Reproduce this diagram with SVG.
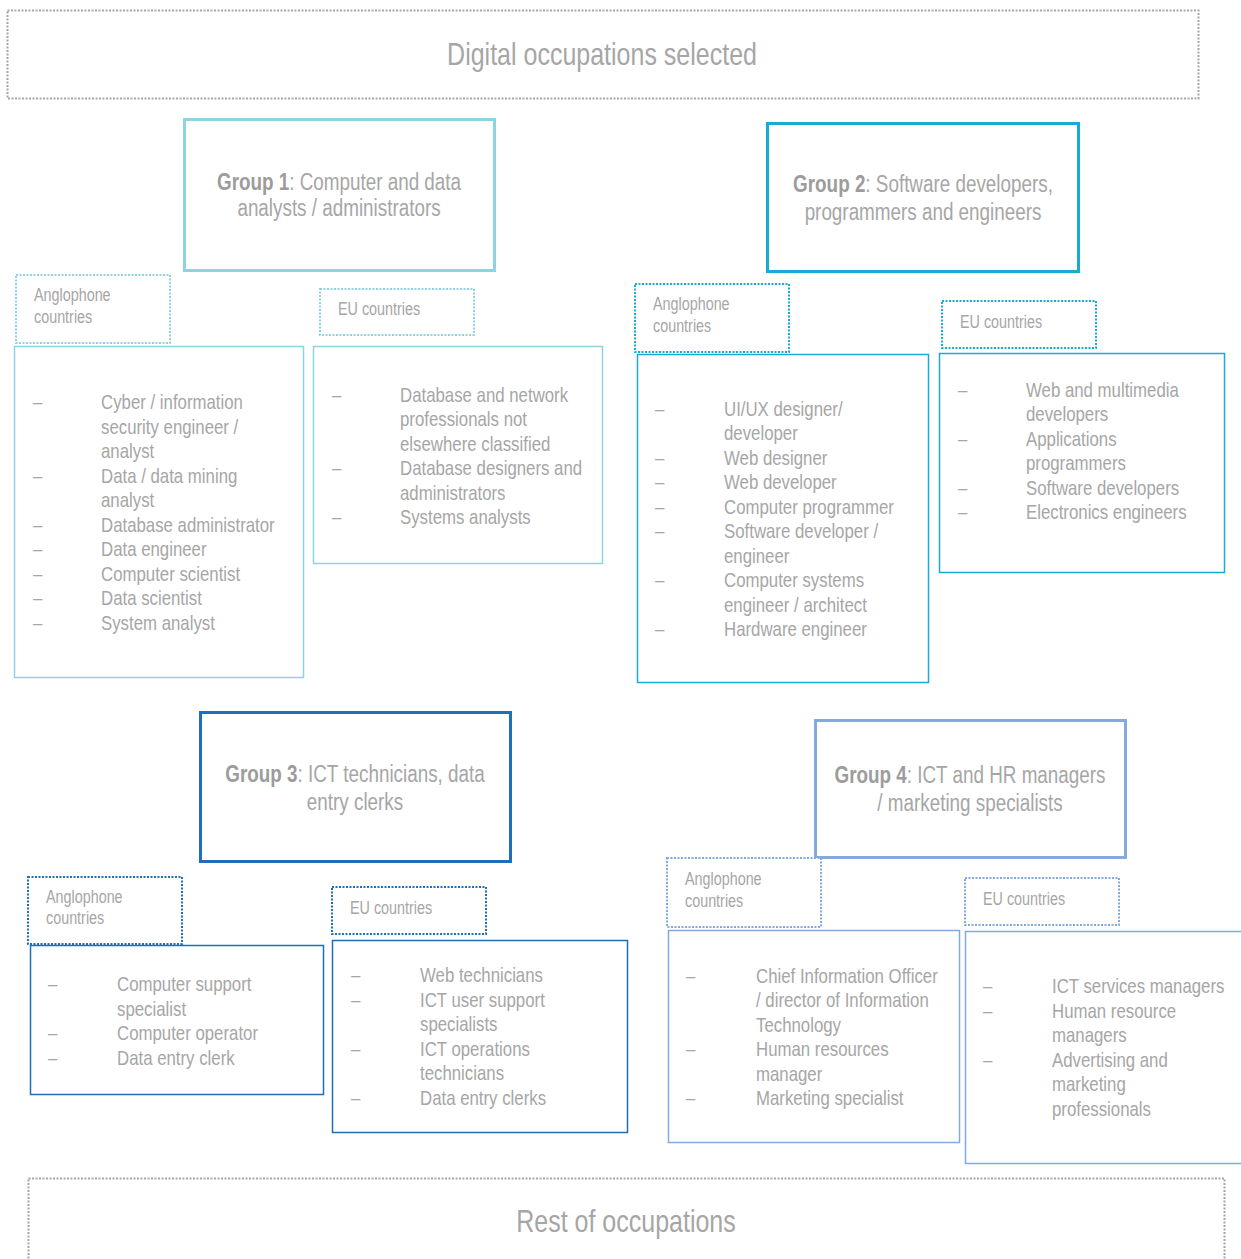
<svg xmlns="http://www.w3.org/2000/svg" width="1241" height="1259" viewBox="0 0 1241 1259">
<style>
text{font-family:"Liberation Sans",Arial,sans-serif;fill:#a6a6a6}
.t1{font-size:30.5px}
.g{font-size:23px}
.b{font-weight:bold;fill:#9c9c9c}
.c{font-size:17.5px}
.li{font-size:20.5px}
.dot{fill:#fff;stroke-width:2;stroke-dasharray:2 1.5}
.gray{stroke:#a6a6a6}
.bx{fill:#fff;stroke-width:3}
.lb{fill:#fff;stroke-width:1.5}
.c1{stroke:#8dd3e3}.c2{stroke:#17acd2}.c3{stroke:#1e6fba}.c4{stroke:#84a9de}
</style>
<g id="digital">
<rect class="dot gray" x="7.5" y="10.5" width="1191" height="88"/>
<g transform="translate(602 0) scale(.82 1)"><text class="t1" x="0" y="65" text-anchor="middle">Digital occupations selected</text></g>
</g>

<g id="group1">
<rect class="bx c1" x="184.5" y="119.5" width="310" height="151"/>
<g transform="translate(339 0) scale(.82 1)"><text class="g" text-anchor="middle"><tspan x="0" y="190"><tspan class="b">Group 1</tspan>: Computer and data</tspan><tspan x="0" y="216">analysts / administrators</tspan></text></g>
</g>
<g id="g1-anglo-label">
<rect class="dot c1" x="16" y="275" width="154" height="68"/>
<g transform="translate(34 0) scale(.82 1)"><text class="c"><tspan x="0" y="301">Anglophone</tspan><tspan x="0" y="323">countries</tspan></text></g>
</g>
<g id="g1-eu-label">
<rect class="dot c1" x="320" y="289" width="154" height="46"/>
<g transform="translate(338 0) scale(.82 1)"><text class="c" x="0" y="315">EU countries</text></g>
</g>
<g id="g1-anglo-list">
<rect class="lb c1" x="14.5" y="346.5" width="289" height="331"/>
<g transform="translate(33 0) scale(.82 1)"><text class="li"><tspan x="0" y="409">–</tspan><tspan x="0" y="483">–</tspan><tspan x="0" y="532">–</tspan><tspan x="0" y="556">–</tspan><tspan x="0" y="581">–</tspan><tspan x="0" y="605">–</tspan><tspan x="0" y="630">–</tspan></text></g>
<g transform="translate(101 0) scale(.82 1)"><text class="li"><tspan x="0" y="409">Cyber / information</tspan><tspan x="0" y="434">security engineer /</tspan><tspan x="0" y="458">analyst</tspan><tspan x="0" y="483">Data / data mining</tspan><tspan x="0" y="507">analyst</tspan><tspan x="0" y="532">Database administrator</tspan><tspan x="0" y="556">Data engineer</tspan><tspan x="0" y="581">Computer scientist</tspan><tspan x="0" y="605">Data scientist</tspan><tspan x="0" y="630">System analyst</tspan></text></g>
</g>
<g id="g1-eu-list">
<rect class="lb c1" x="313.5" y="346.5" width="289" height="217"/>
<g transform="translate(332 0) scale(.82 1)"><text class="li"><tspan x="0" y="402">–</tspan><tspan x="0" y="475">–</tspan><tspan x="0" y="524">–</tspan></text></g>
<g transform="translate(400 0) scale(.82 1)"><text class="li"><tspan x="0" y="402">Database and network</tspan><tspan x="0" y="426">professionals not</tspan><tspan x="0" y="451">elsewhere classified</tspan><tspan x="0" y="475">Database designers and</tspan><tspan x="0" y="500">administrators</tspan><tspan x="0" y="524">Systems analysts</tspan></text></g>
</g>

<g id="group2">
<rect class="bx c2" x="767.5" y="123.5" width="311" height="148"/>
<g transform="translate(923 0) scale(.82 1)"><text class="g" text-anchor="middle"><tspan x="0" y="192"><tspan class="b">Group 2</tspan>: Software developers,</tspan><tspan x="0" y="220">programmers and engineers</tspan></text></g>
</g>
<g id="g2-anglo-label">
<rect class="dot c2" x="635" y="284" width="154" height="68"/>
<g transform="translate(653 0) scale(.82 1)"><text class="c"><tspan x="0" y="310">Anglophone</tspan><tspan x="0" y="332">countries</tspan></text></g>
</g>
<g id="g2-eu-label">
<rect class="dot c2" x="942" y="301" width="154" height="47"/>
<g transform="translate(960 0) scale(.82 1)"><text class="c" x="0" y="328">EU countries</text></g>
</g>
<g id="g2-anglo-list">
<rect class="lb c2" x="637.5" y="354.5" width="291" height="328"/>
<g transform="translate(655 0) scale(.82 1)"><text class="li"><tspan x="0" y="416">–</tspan><tspan x="0" y="465">–</tspan><tspan x="0" y="489">–</tspan><tspan x="0" y="514">–</tspan><tspan x="0" y="538">–</tspan><tspan x="0" y="587">–</tspan><tspan x="0" y="636">–</tspan></text></g>
<g transform="translate(724 0) scale(.82 1)"><text class="li"><tspan x="0" y="416">UI/UX designer/</tspan><tspan x="0" y="440">developer</tspan><tspan x="0" y="465">Web designer</tspan><tspan x="0" y="489">Web developer</tspan><tspan x="0" y="514">Computer programmer</tspan><tspan x="0" y="538">Software developer /</tspan><tspan x="0" y="563">engineer</tspan><tspan x="0" y="587">Computer systems</tspan><tspan x="0" y="612">engineer / architect</tspan><tspan x="0" y="636">Hardware engineer</tspan></text></g>
</g>
<g id="g2-eu-list">
<rect class="lb c2" x="939.5" y="353.5" width="285" height="219"/>
<g transform="translate(958 0) scale(.82 1)"><text class="li"><tspan x="0" y="397">–</tspan><tspan x="0" y="446">–</tspan><tspan x="0" y="495">–</tspan><tspan x="0" y="519">–</tspan></text></g>
<g transform="translate(1026 0) scale(.82 1)"><text class="li"><tspan x="0" y="397">Web and multimedia</tspan><tspan x="0" y="421">developers</tspan><tspan x="0" y="446">Applications</tspan><tspan x="0" y="470">programmers</tspan><tspan x="0" y="495">Software developers</tspan><tspan x="0" y="519">Electronics engineers</tspan></text></g>
</g>

<g id="group3">
<rect class="bx c3" x="200.5" y="712.5" width="310" height="149"/>
<g transform="translate(355 0) scale(.82 1)"><text class="g" text-anchor="middle"><tspan x="0" y="782"><tspan class="b">Group 3</tspan>: ICT technicians, data</tspan><tspan x="0" y="810">entry clerks</tspan></text></g>
</g>
<g id="g3-anglo-label">
<rect class="dot c3" x="28" y="877" width="154" height="67"/>
<g transform="translate(46 0) scale(.82 1)"><text class="c"><tspan x="0" y="903">Anglophone</tspan><tspan x="0" y="924">countries</tspan></text></g>
</g>
<g id="g3-eu-label">
<rect class="dot c3" x="332" y="887" width="154" height="47"/>
<g transform="translate(350 0) scale(.82 1)"><text class="c" x="0" y="914">EU countries</text></g>
</g>
<g id="g3-anglo-list">
<rect class="lb c3" x="30.5" y="945.5" width="293" height="149"/>
<g transform="translate(48 0) scale(.82 1)"><text class="li"><tspan x="0" y="991">–</tspan><tspan x="0" y="1040">–</tspan><tspan x="0" y="1065">–</tspan></text></g>
<g transform="translate(117 0) scale(.82 1)"><text class="li"><tspan x="0" y="991">Computer support</tspan><tspan x="0" y="1016">specialist</tspan><tspan x="0" y="1040">Computer operator</tspan><tspan x="0" y="1065">Data entry clerk</tspan></text></g>
</g>
<g id="g3-eu-list">
<rect class="lb c3" x="332.5" y="940.5" width="295" height="192"/>
<g transform="translate(351 0) scale(.82 1)"><text class="li"><tspan x="0" y="982">–</tspan><tspan x="0" y="1007">–</tspan><tspan x="0" y="1056">–</tspan><tspan x="0" y="1105">–</tspan></text></g>
<g transform="translate(420 0) scale(.82 1)"><text class="li"><tspan x="0" y="982">Web technicians</tspan><tspan x="0" y="1007">ICT user support</tspan><tspan x="0" y="1031">specialists</tspan><tspan x="0" y="1056">ICT operations</tspan><tspan x="0" y="1080">technicians</tspan><tspan x="0" y="1105">Data entry clerks</tspan></text></g>
</g>

<g id="group4">
<rect class="bx c4" x="815.5" y="720.5" width="310" height="137"/>
<g transform="translate(970 0) scale(.82 1)"><text class="g" text-anchor="middle"><tspan x="0" y="783"><tspan class="b">Group 4</tspan>: ICT and HR managers</tspan><tspan x="0" y="811">/ marketing specialists</tspan></text></g>
</g>
<g id="g4-anglo-label">
<rect class="dot c4" x="667" y="858" width="154" height="69"/>
<g transform="translate(685 0) scale(.82 1)"><text class="c"><tspan x="0" y="885">Anglophone</tspan><tspan x="0" y="907">countries</tspan></text></g>
</g>
<g id="g4-eu-label">
<rect class="dot c4" x="965" y="878" width="154" height="47"/>
<g transform="translate(983 0) scale(.82 1)"><text class="c" x="0" y="905">EU countries</text></g>
</g>
<g id="g4-anglo-list">
<rect class="lb c4" x="668.5" y="930.5" width="291" height="212"/>
<g transform="translate(686 0) scale(.82 1)"><text class="li"><tspan x="0" y="983">–</tspan><tspan x="0" y="1056">–</tspan><tspan x="0" y="1105">–</tspan></text></g>
<g transform="translate(756 0) scale(.82 1)"><text class="li"><tspan x="0" y="983">Chief Information Officer</tspan><tspan x="0" y="1007">/ director of Information</tspan><tspan x="0" y="1032">Technology</tspan><tspan x="0" y="1056">Human resources</tspan><tspan x="0" y="1081">manager</tspan><tspan x="0" y="1105">Marketing specialist</tspan></text></g>
</g>
<g id="g4-eu-list">
<rect class="lb c4" x="965.5" y="931.5" width="290" height="232"/>
<g transform="translate(983 0) scale(.82 1)"><text class="li"><tspan x="0" y="993">–</tspan><tspan x="0" y="1018">–</tspan><tspan x="0" y="1067">–</tspan></text></g>
<g transform="translate(1052 0) scale(.82 1)"><text class="li"><tspan x="0" y="993">ICT services managers</tspan><tspan x="0" y="1018">Human resource</tspan><tspan x="0" y="1042">managers</tspan><tspan x="0" y="1067">Advertising and</tspan><tspan x="0" y="1091">marketing</tspan><tspan x="0" y="1116">professionals</tspan></text></g>
</g>

<g id="rest">
<rect class="dot gray" x="28.5" y="1178.5" width="1196" height="90"/>
<g transform="translate(626 0) scale(.82 1)"><text class="t1" x="0" y="1232" text-anchor="middle">Rest of occupations</text></g>
</g>
<g id="connectors"/>
</svg>
